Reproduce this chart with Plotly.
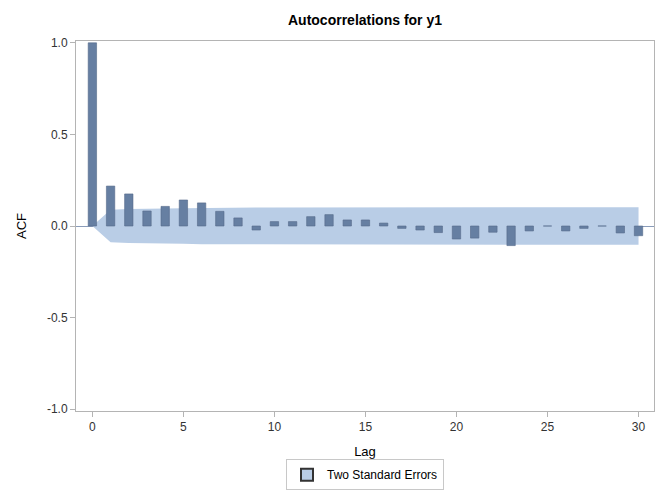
import plotly.graph_objects as go

lags = list(range(0, 31))
acf = [1.000, 0.218, 0.175, 0.082, 0.107, 0.142, 0.126, 0.080, 0.044, -0.022,
       0.024, 0.024, 0.051, 0.062, 0.033, 0.033, 0.016, -0.013, -0.022, -0.036,
       -0.071, -0.066, -0.034, -0.107, -0.027, 0.000, -0.027, -0.013, 0.000, -0.038,
       -0.053]
two_se = [0.000, 0.089, 0.093, 0.096, 0.096, 0.097, 0.099, 0.100, 0.101, 0.101,
          0.101, 0.101, 0.101, 0.101, 0.102, 0.102, 0.102, 0.102, 0.102, 0.102,
          0.102, 0.102, 0.102, 0.103, 0.103, 0.103, 0.103, 0.103, 0.103, 0.103,
          0.103]
x_ticks = [0, 5, 10, 15, 20, 25, 30]
y_ticks = [-1.0, -0.5, 0.0, 0.5, 1.0]
y_tick_labels = ["-1.0", "-0.5", "0.0", "0.5", "1.0"]

BAND = "#b9cde6"
BAR = "#667fa2"
FRAME = "#b4b4b4"
FONT = "Liberation Sans, Arial, sans-serif"
XR = [-0.9, 30.85]
YR = [-1.01, 1.01]

upper = two_se
lower = [-v for v in two_se]

fig = go.Figure()
fig.add_trace(go.Scatter(
    x=lags + lags[::-1], y=upper + lower[::-1],
    fill="toself", fillcolor=BAND, mode="lines",
    line=dict(width=0, color=BAND), hoverinfo="skip", showlegend=False,
    xaxis="x", yaxis="y"))
fig.add_trace(go.Bar(
    x=lags, y=acf, width=0.46,
    marker=dict(color=BAR, line=dict(color="#56698a", width=0.6)),
    showlegend=False, xaxis="x2", yaxis="y2"))
fig.add_trace(go.Scatter(
    x=[None], y=[None], mode="markers", name="Two Standard Errors",
    marker=dict(symbol="square", size=10, color=BAND, line=dict(color="#333333", width=1))))

fig.update_layout(
    width=650, height=484,
    margin=dict(l=68, r=4, t=33, b=81, autoexpand=False),
    paper_bgcolor="white", plot_bgcolor="white",
    font=dict(family=FONT, size=12, color="#333333"),
    title=dict(text="<b>Autocorrelations for y1</b>", x=0.5, xref="paper", xanchor="center",
               y=1 - 12 / 484, yref="container", yanchor="middle",
               font=dict(size=14, color="#000000", family=FONT)),
    xaxis=dict(range=XR, tickvals=x_ticks, ticks="outside", ticklen=5,
               tickcolor=FRAME, showline=True, linecolor=FRAME, linewidth=1, mirror=True,
               showgrid=False, zeroline=False,
               title=dict(text="Lag", font=dict(size=13, color="#000000"), standoff=13),
               tickfont=dict(size=12, color="#333333")),
    yaxis=dict(range=YR, tickvals=y_ticks, ticktext=y_tick_labels, ticks="outside",
               ticklen=5, tickcolor=FRAME, showline=True, linecolor=FRAME, linewidth=1,
               mirror=True, showgrid=False, zeroline=True, zerolinecolor="#8a9cb9",
               zerolinewidth=1, layer="above traces",
               title=dict(text="ACF", font=dict(size=13, color="#000000"), standoff=17),
               tickfont=dict(size=12, color="#333333")),
    xaxis2=dict(range=XR, overlaying="x", visible=False, showgrid=False, zeroline=False),
    yaxis2=dict(range=YR, overlaying="y", visible=False, showgrid=False, zeroline=False),
    legend=dict(orientation="h", x=0.5, xanchor="center", y=-0.172, yanchor="middle",
                bordercolor="#c8c8c8", borderwidth=1, font=dict(size=12, color="#000000"),
                itemsizing="constant"),
)

fig.write_html("out.html")
